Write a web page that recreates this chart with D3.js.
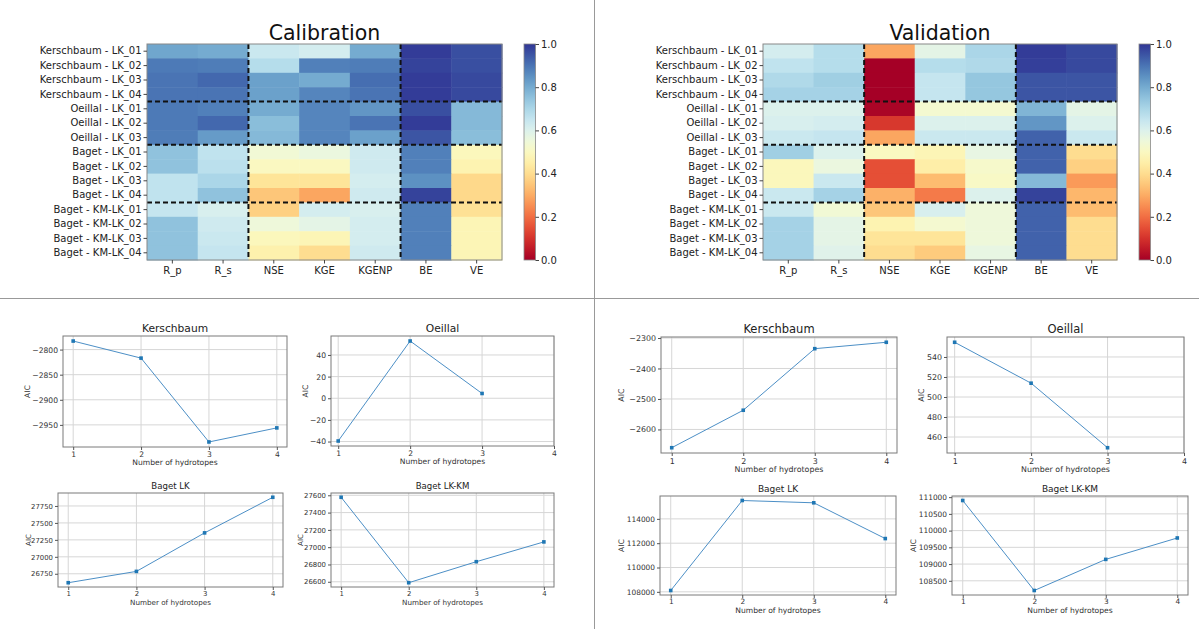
<!DOCTYPE html>
<html>
<head>
<meta charset="utf-8">
<script src="https://cdn.jsdelivr.net/npm/d3@7"></script>
<style>
  body { margin: 0; background: #fff; }
  svg { display: block; font-family: "DejaVu Sans", sans-serif; }
</style>
</head>
<body>
<svg id="fig" width="1199" height="629"></svg>
<script>
// ---- data ----
const rowLabels = [
  'Kerschbaum - LK_01', 'Kerschbaum - LK_02', 'Kerschbaum - LK_03', 'Kerschbaum - LK_04',
  'Oeillal - LK_01', 'Oeillal - LK_02', 'Oeillal - LK_03',
  'Baget - LK_01', 'Baget - LK_02', 'Baget - LK_03', 'Baget - LK_04',
  'Baget - KM-LK_01', 'Baget - KM-LK_02', 'Baget - KM-LK_03', 'Baget - KM-LK_04'
];
const metrics = ['R_p', 'R_s', 'NSE', 'KGE', 'KGENP', 'BE', 'VE'];
const rowBreaks = [4, 7, 11];
const metricBreaks = [2, 5];

//           R_p   R_s   NSE   KGE   KGENP BE    VE
const calibScores = [
  [0.81, 0.80, 0.64, 0.62, 0.80, 0.99, 0.96],
  [0.89, 0.885, 0.68, 0.88, 0.885, 0.98, 0.96],
  [0.90, 0.92, 0.82, 0.80, 0.91, 0.99, 0.97],
  [0.90, 0.90, 0.82, 0.87, 0.90, 0.99, 0.97],
  [0.89, 0.88, 0.80, 0.87, 0.84, 0.96, 0.77],
  [0.89, 0.92, 0.76, 0.87, 0.90, 0.99, 0.77],
  [0.885, 0.83, 0.77, 0.87, 0.82, 0.95, 0.76],
  [0.75, 0.66, 0.54, 0.56, 0.63, 0.88, 0.49],
  [0.75, 0.67, 0.50, 0.50, 0.63, 0.88, 0.47],
  [0.66, 0.70, 0.42, 0.42, 0.62, 0.85, 0.39],
  [0.66, 0.75, 0.35, 0.29, 0.63, 0.98, 0.39],
  [0.65, 0.61, 0.37, 0.62, 0.61, 0.88, 0.41],
  [0.75, 0.63, 0.55, 0.58, 0.62, 0.88, 0.48],
  [0.75, 0.64, 0.49, 0.48, 0.62, 0.88, 0.48],
  [0.75, 0.65, 0.46, 0.40, 0.63, 0.88, 0.48]
];
const validScores = [
  [0.62, 0.68, 0.29, 0.58, 0.70, 0.99, 0.97],
  [0.66, 0.68, 0.00, 0.68, 0.69, 0.985, 0.97],
  [0.69, 0.72, 0.00, 0.65, 0.74, 0.95, 0.95],
  [0.71, 0.71, 0.00, 0.65, 0.74, 0.95, 0.95],
  [0.60, 0.60, 0.01, 0.53, 0.53, 0.78, 0.58],
  [0.61, 0.62, 0.11, 0.60, 0.60, 0.84, 0.60],
  [0.64, 0.65, 0.29, 0.64, 0.64, 0.93, 0.64],
  [0.72, 0.60, 0.50, 0.48, 0.57, 0.93, 0.40],
  [0.49, 0.56, 0.15, 0.45, 0.52, 0.93, 0.37],
  [0.49, 0.64, 0.15, 0.33, 0.51, 0.77, 0.27],
  [0.64, 0.71, 0.31, 0.22, 0.60, 0.98, 0.32],
  [0.64, 0.54, 0.35, 0.61, 0.55, 0.93, 0.33],
  [0.71, 0.58, 0.47, 0.53, 0.55, 0.93, 0.40],
  [0.71, 0.58, 0.42, 0.42, 0.55, 0.93, 0.40],
  [0.71, 0.59, 0.40, 0.36, 0.57, 0.93, 0.40]
];
const colorTicks = [0, 0.2, 0.4, 0.6, 0.8, 1.0];

const hydrotopeTicks = [1, 2, 3, 4];
const calKerschAic = [-2783, -2817, -2984, -2956];
const calKerschTicks = [-2800, -2850, -2900, -2950];
const calOeillalAic = [-39.5, 52.9, 4.4];
const calOeillalTicks = [-40, -20, 0, 20, 40];
const calBagetLkAic = [26618, 26785, 27353, 27878];
const calBagetLkTicks = [26750, 27000, 27250, 27500, 27750];
const calBagetKmAic = [27577, 26589, 26832, 27061];
const calBagetKmTicks = [26600, 26800, 27000, 27200, 27400, 27600];
const valKerschAic = [-2660, -2537, -2335, -2314];
const valKerschTicks = [-2600, -2500, -2400, -2300];
const valOeillalAic = [554.7, 513.8, 449.3];
const valOeillalTicks = [460, 480, 500, 520, 540];
const valBagetLkAic = [108110, 115510, 115320, 112380];
const valBagetLkTicks = [108000, 110000, 112000, 114000];
const valBagetKmAic = [110900, 108210, 109140, 109780];
const valBagetKmTicks = [108500, 109000, 109500, 110000, 110500, 111000];

const svg = d3.select('#fig');
const color = d3.scaleSequential(d3.interpolateRdYlBu).domain([0, 1]);

// panel dividers
svg.append('line').attr('x1', 594.5).attr('x2', 594.5).attr('y1', 0).attr('y2', 629)
  .attr('stroke', '#999').attr('stroke-width', 1);
svg.append('line').attr('x1', 0).attr('x2', 1199).attr('y1', 298.5).attr('y2', 298.5)
  .attr('stroke', '#999').attr('stroke-width', 1);

// gradient for colorbars
const grad = svg.append('defs').append('linearGradient')
  .attr('id', 'rdylbu').attr('x1', 0).attr('x2', 0).attr('y1', 1).attr('y2', 0);
d3.range(0, 1.0001, 0.05).forEach(t => {
  grad.append('stop').attr('offset', t).attr('stop-color', color(t));
});

function drawHeatmap(scores, box, cbarX, title) {
  const g = svg.append('g');
  const x = d3.scaleBand().domain(metrics).range([box.x, box.x + box.w]);
  const y = d3.scaleBand().domain(rowLabels).range([box.y, box.y + box.h]);

  scores.forEach((row, i) => {
    row.forEach((v, j) => {
      g.append('rect')
        .attr('x', x(metrics[j])).attr('y', y(rowLabels[i]))
        .attr('width', x.bandwidth() + 0.5).attr('height', y.bandwidth() + 0.5)
        .attr('fill', color(v));
    });
  });

  // group separators
  rowBreaks.forEach(r => {
    const yy = y(rowLabels[r]);
    g.append('line').attr('x1', box.x).attr('x2', box.x + box.w).attr('y1', yy).attr('y2', yy)
      .attr('stroke', '#111').attr('stroke-width', 2).attr('stroke-dasharray', '5,3');
  });
  metricBreaks.forEach(c => {
    const xx = x(metrics[c]);
    g.append('line').attr('x1', xx).attr('x2', xx).attr('y1', box.y).attr('y2', box.y + box.h)
      .attr('stroke', '#111').attr('stroke-width', 2).attr('stroke-dasharray', '5,3');
  });

  g.append('rect').attr('x', box.x).attr('y', box.y).attr('width', box.w).attr('height', box.h)
    .attr('fill', 'none').attr('stroke', '#888').attr('stroke-width', 1);

  const yAxis = g.append('g').attr('transform', `translate(${box.x},0)`)
    .call(d3.axisLeft(y).tickSize(3.5).tickPadding(2));
  const xAxis = g.append('g').attr('transform', `translate(0,${box.y + box.h})`)
    .call(d3.axisBottom(x).tickSize(3.5).tickPadding(3));
  [yAxis, xAxis].forEach(a => {
    a.select('.domain').remove();
    a.selectAll('text').attr('font-size', 10).attr('fill', '#222')
      .attr('font-family', '"DejaVu Sans", sans-serif');
    a.selectAll('line').attr('stroke', '#444');
  });

  g.append('text').attr('x', box.x + box.w / 2).attr('y', 40).attr('text-anchor', 'middle')
    .attr('font-size', 20.5).attr('fill', '#111').text(title);

  // colorbar
  const cb = d3.scaleLinear().domain([0, 1]).range([box.y + box.h, box.y]);
  g.append('rect').attr('x', cbarX).attr('y', box.y).attr('width', 11.5).attr('height', box.h)
    .attr('fill', 'url(#rdylbu)').attr('stroke', '#888').attr('stroke-width', 0.8);
  const cbAxis = g.append('g').attr('transform', `translate(${cbarX + 11.5},0)`)
    .call(d3.axisRight(cb).tickValues(colorTicks).tickFormat(d3.format('.1f')).tickSize(3.5).tickPadding(2));
  cbAxis.select('.domain').remove();
  cbAxis.selectAll('text').attr('font-size', 10).attr('fill', '#222')
    .attr('font-family', '"DejaVu Sans", sans-serif');
  cbAxis.selectAll('line').attr('stroke', '#444');
}

drawHeatmap(calibScores, {x: 147, y: 44, w: 355, h: 216}, 524, 'Calibration');
drawHeatmap(validScores, {x: 763, y: 44, w: 354, h: 216}, 1139, 'Validation');

function drawAic(cfg) {
  const {box, title, values, yTicks, fs} = cfg;
  const g = svg.append('g');
  const n = values.length;
  const xs = values.map((v, i) => hydrotopeTicks[i]);
  const xPad = 0.05 * (n - 1);
  const x = d3.scaleLinear()
    .domain([1 - xPad, Math.max(d3.max(hydrotopeTicks), n + xPad)])
    .range([box.x, box.x + box.w]);
  const [lo, hi] = d3.extent(values);
  const yPad = 0.05 * (hi - lo);
  const y = d3.scaleLinear().domain([lo - yPad, hi + yPad]).range([box.y + box.h, box.y]);

  // grid
  hydrotopeTicks.forEach(t => {
    g.append('line').attr('x1', x(t)).attr('x2', x(t)).attr('y1', box.y).attr('y2', box.y + box.h)
      .attr('stroke', '#d6d6d6').attr('stroke-width', 1);
  });
  yTicks.forEach(t => {
    g.append('line').attr('x1', box.x).attr('x2', box.x + box.w).attr('y1', y(t)).attr('y2', y(t))
      .attr('stroke', '#d6d6d6').attr('stroke-width', 1);
  });

  g.append('rect').attr('x', box.x).attr('y', box.y).attr('width', box.w).attr('height', box.h)
    .attr('fill', 'none').attr('stroke', '#7a7a7a').attr('stroke-width', 1);

  const xAxis = g.append('g').attr('transform', `translate(0,${box.y + box.h})`)
    .call(d3.axisBottom(x).tickValues(hydrotopeTicks).tickFormat(d3.format('d'))
      .tickSize(3).tickPadding(cfg.xPad));
  const yAxis = g.append('g').attr('transform', `translate(${box.x},0)`)
    .call(d3.axisLeft(y).tickValues(yTicks).tickFormat(d3.format('d')).tickSize(3).tickPadding(2));
  [xAxis, yAxis].forEach(a => {
    a.select('.domain').remove();
    a.selectAll('text').attr('font-size', fs.tick).attr('fill', '#333')
      .attr('font-family', '"DejaVu Sans", sans-serif');
    a.selectAll('line').attr('stroke', '#555');
  });

  const line = d3.line().x((d, i) => x(xs[i])).y(d => y(d));
  g.append('path').datum(values).attr('d', line)
    .attr('fill', 'none').attr('stroke', '#4c8fc6').attr('stroke-width', 1);
  g.selectAll('.pt').data(values).enter().append('rect')
    .attr('x', (d, i) => x(xs[i]) - 1.8).attr('y', d => y(d) - 1.8)
    .attr('width', 3.6).attr('height', 3.6).attr('fill', '#1f77b4');

  g.append('text').attr('x', box.x + box.w / 2).attr('y', box.y - 4).attr('text-anchor', 'middle')
    .attr('font-size', fs.title).attr('fill', '#222').text(title);
  g.append('text').attr('x', box.x + box.w / 2).attr('y', box.y + box.h + cfg.xLabelDy)
    .attr('text-anchor', 'middle').attr('font-size', fs.label).attr('fill', '#333')
    .text('Number of hydrotopes');
  g.append('text')
    .attr('transform', `translate(${box.x + cfg.yLabelDx},${box.y + box.h / 2}) rotate(-90)`)
    .attr('text-anchor', 'middle').attr('dominant-baseline', 'central')
    .attr('font-size', fs.label).attr('fill', '#333').text('AIC');
}

const fsTop = {title: 10.7, tick: 7.6, label: 7.6};
const fsBot = {title: 8.6, tick: 6.9, label: 7.2};
const fsValTop = {title: 11.5, tick: 7.9, label: 7.9};
const fsValBot = {title: 9, tick: 7.4, label: 7.6};

drawAic({box: {x: 63, y: 336, w: 224, h: 111}, title: 'Kerschbaum', values: calKerschAic,
  yTicks: calKerschTicks, fs: fsTop, xPad: 2, xLabelDy: 18, yLabelDx: -36});
drawAic({box: {x: 331, y: 336, w: 223, h: 110}, title: 'Oeillal', values: calOeillalAic,
  yTicks: calOeillalTicks, fs: fsTop, xPad: 2, xLabelDy: 18, yLabelDx: -26});
drawAic({box: {x: 58, y: 493, w: 225, h: 94}, title: 'Baget LK', values: calBagetLkAic,
  yTicks: calBagetLkTicks, fs: fsBot, xPad: 1, xLabelDy: 17.5, yLabelDx: -30});
drawAic({box: {x: 331, y: 493, w: 223, h: 94}, title: 'Baget LK-KM', values: calBagetKmAic,
  yTicks: calBagetKmTicks, fs: fsBot, xPad: 1, xLabelDy: 17.5, yLabelDx: -31});

drawAic({box: {x: 661, y: 337, w: 236, h: 116}, title: 'Kerschbaum', values: valKerschAic,
  yTicks: valKerschTicks, fs: fsValTop, xPad: 2, xLabelDy: 19, yLabelDx: -40});
drawAic({box: {x: 947, y: 337, w: 237, h: 116}, title: 'Oeillal', values: valOeillalAic,
  yTicks: valOeillalTicks, fs: fsValTop, xPad: 2, xLabelDy: 19, yLabelDx: -26});
drawAic({box: {x: 660, y: 496, w: 236, h: 99}, title: 'Baget LK', values: valBagetLkAic,
  yTicks: valBagetLkTicks, fs: fsValBot, xPad: 1, xLabelDy: 17.5, yLabelDx: -39});
drawAic({box: {x: 952, y: 496, w: 236, h: 99}, title: 'Baget LK-KM', values: valBagetKmAic,
  yTicks: valBagetKmTicks, fs: fsValBot, xPad: 1, xLabelDy: 17.5, yLabelDx: -39});
</script>
</body>
</html>
